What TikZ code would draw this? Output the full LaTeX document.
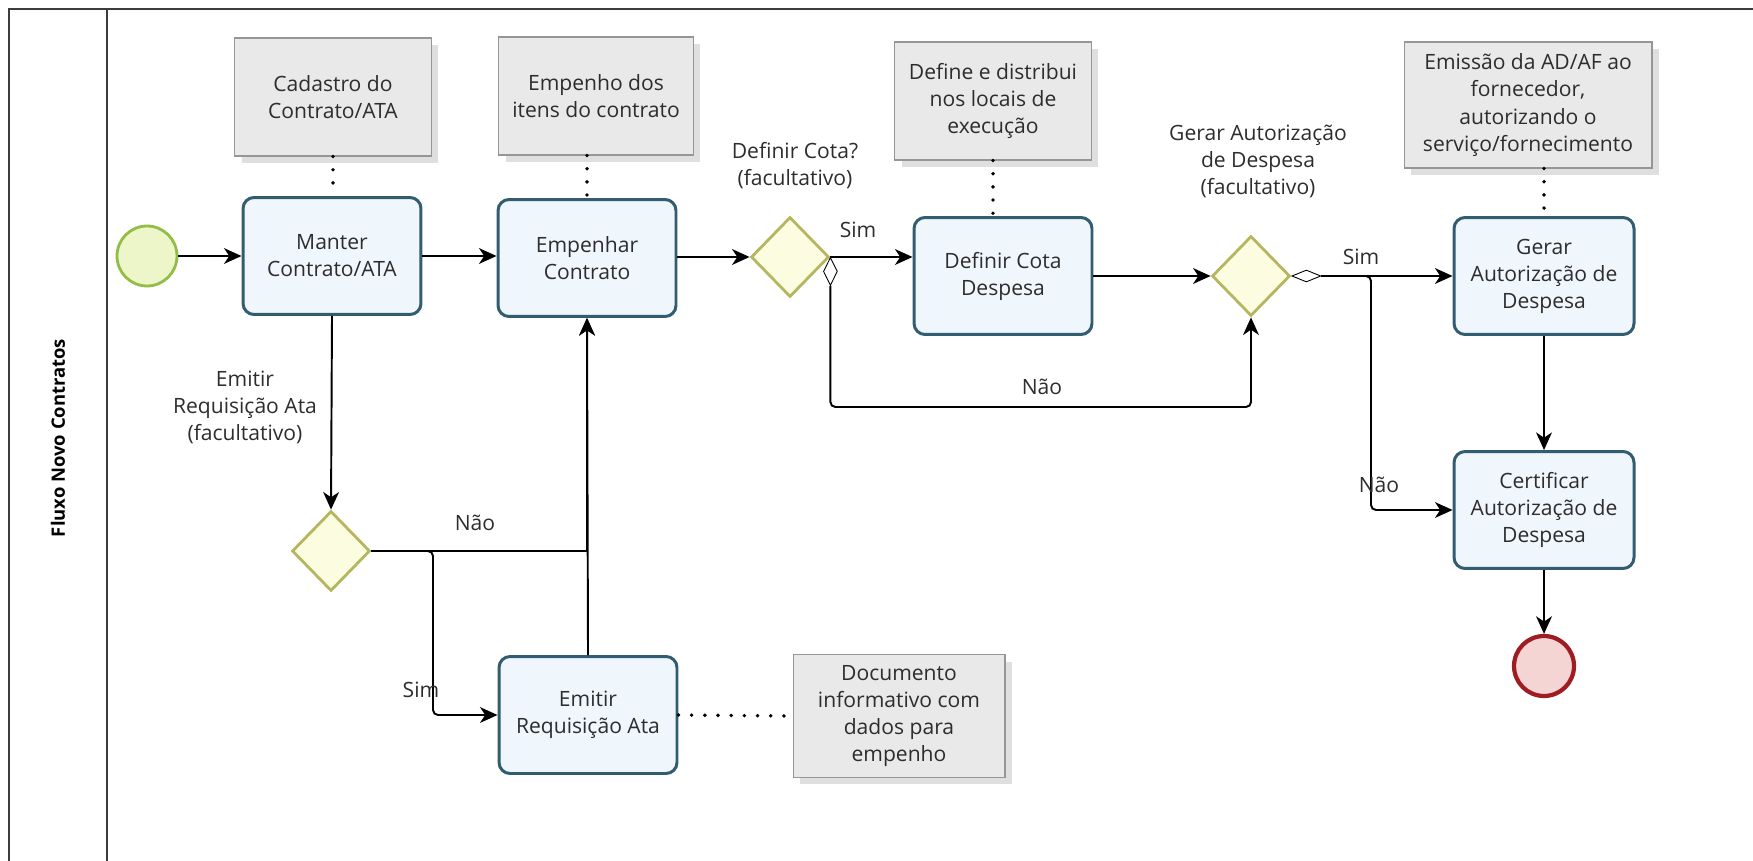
\documentclass[tikz,border=0pt]{standalone}
\usepackage{fontspec}
\setmainfont{Open Sans}
\usetikzlibrary{positioning,shapes.geometric,shadows,arrows.meta}

\definecolor{taskline}{RGB}{50,92,112}
\definecolor{taskfill}{RGB}{239,246,252}
\definecolor{notefill}{RGB}{233,233,233}
\definecolor{noteline}{RGB}{150,150,150}
\definecolor{gateline}{RGB}{182,182,96}
\definecolor{gatefill}{RGB}{252,252,224}
\definecolor{startline}{RGB}{148,188,72}
\definecolor{startfill}{RGB}{236,246,200}
\definecolor{endline}{RGB}{158,28,34}
\definecolor{endfill}{RGB}{245,212,212}
\definecolor{txt}{RGB}{45,45,45}
\definecolor{frameline}{RGB}{60,60,60}

\begin{document}
\begin{tikzpicture}[x=0.02cm, y=-0.02cm,
    txtfont/.style={font=\fontsize{12}{15.4}\selectfont, text=txt, align=center},
    task/.style={txtfont, draw=taskline, line width=1.7pt, fill=taskfill, rounded corners=0.22cm, minimum width=3.56cm, minimum height=2.34cm, inner sep=2pt},
    note/.style={txtfont, draw=noteline, line width=0.6pt, fill=notefill, minimum width=3.94cm, minimum height=2.36cm, inner sep=2pt, drop shadow={shadow xshift=0.14cm, shadow yshift=-0.14cm, opacity=0.25}},
    gate/.style={shape=diamond, draw=gateline, line width=1.6pt, fill=gatefill, minimum width=1.56cm, minimum height=1.6cm, inner sep=0pt},
    marker/.style={shape=diamond, draw=black, line width=0.5pt, fill=white, inner sep=0pt},
    lbl/.style={txtfont},
    flow/.style={draw=black, line width=1.1pt, -{Stealth[length=10pt,width=9pt,inset=3pt]}},
    assoc/.style={draw=black, line width=2.2pt, line cap=round, dash pattern=on 0pt off 7.5pt},
    frame/.style={draw=frameline, line width=1.2pt}]
    \useasboundingbox (0,0) rectangle (1753,861);
    % pool
    \draw[frame] (9,861) -- (9,9) -- (1753,9);
    \draw[frame] (107,9) -- (107,861);
    \node[rotate=90, font=\fontsize{10.5}{12}\selectfont\bfseries, text=black] (pool) at (58,438) {Fluxo Novo Contratos};
    % events and tasks
    \node[shape=circle, draw=startline, line width=1.6pt, fill=startfill, minimum size=1.2cm] (start) at (147,256) {};
    \node[task] (manter) at (332,256) {Manter\\Contrato/ATA};
    \node[task] (empenhar) at (587,258) {Empenhar\\Contrato};
    \node[gate] (g1) at (790,257) {};
    \node[task] (defcota) at (1003,276) {Definir Cota\\Despesa};
    \node[gate] (g2) at (1251,276) {};
    \node[task, minimum width=3.6cm] (gerar) at (1544,276) {Gerar\\Autorização de\\Despesa};
    \node[task, minimum width=3.6cm] (certif) at (1544,510) {Certificar\\Autorização de\\Despesa};
    \node[shape=circle, draw=endline, line width=2.4pt, fill=endfill, minimum size=1.2cm] (fim) at (1544,666) {};
    \node[gate] (g3) at (331,551) {};
    \node[task] (emitir) at (588,715) {Emitir\\Requisição Ata};
    % notes
    \node[note] (cadnote) at (333,97) {Cadastro do\\Contrato/ATA};
    \node[note, minimum width=3.9cm] (empnote) at (596,96) {Empenho dos\\itens do contrato};
    \node[note] (defnote) at (993,101) {Define e distribui\\nos locais de\\execução};
    \node[note, minimum width=4.96cm, minimum height=2.52cm] (emisnote) at (1528,105) {Emissão da AD/AF ao\\fornecedor,\\autorizando o\\serviço/fornecimento};
    \node[note, minimum width=4.24cm, minimum height=2.46cm] (docnote) at (899,716) {Documento\\informativo com\\dados para\\empenho};
    % conditional markers
    \node[marker, minimum width=0.28cm, minimum height=0.56cm, anchor=north] (mk1) at (g1.east) {};
    \node[marker, minimum width=0.58cm, minimum height=0.24cm, anchor=west] (mk2) at (g2.east) {};
    % bends
    \coordinate (naobend1) at (1251,407);
    \coordinate (naobend2) at (1371,510);
    \coordinate (simbend) at (433,715);
    % flows
    \draw[flow] (start) -- (manter);
    \draw[flow] (manter.east) -- (manter.east -| empenhar.west);
    \draw[flow] (manter.south) -- (g3.north);
    \draw[flow] (g3.east) -| (empenhar.south);
    \draw[flow, rounded corners=0.1cm] (g3.east) -| (simbend) -- (emitir.west);
    \draw[flow] (emitir.north) -- (empenhar.south);
    \draw[flow] (empenhar.east |- g1.west) -- (g1.west);
    \draw[flow] (g1.east) -- (g1.east -| defcota.west);
    \draw[flow, rounded corners=0.1cm] (mk1.south) |- (naobend1) -- (g2.south);
    \draw[flow] (defcota.east) -- (g2.west);
    \draw[flow] (mk2.east) -- (gerar.west);
    \draw[flow, rounded corners=0.1cm] (mk2.east) -| (naobend2) -- (certif.west);
    \draw[flow] (gerar.south) -- (certif.north);
    \draw[flow] (certif.south) -- (fim.north);
    % associations
    \draw[assoc] (cadnote.south) -- (cadnote.south |- manter.north);
    \draw[assoc] (empnote.south -| empenhar.north) -- (empenhar.north);
    \draw[assoc] (defnote.south) -- (defnote.south |- defcota.north);
    \draw[assoc] (emisnote.south -| gerar.north) -- (gerar.north);
    \draw[assoc] (emitir.east) -- (docnote.west);
    % labels
    \node[lbl] (lblreq) at (245,407) {Emitir\\Requisição Ata\\(facultativo)};
    \node[lbl] (lblcota) at (795,166) {Definir Cota?\\(facultativo)};
    \node[lbl] (lblaut) at (1258,161) {Gerar Autorização\\de Despesa\\(facultativo)};
    \node[lbl] (sim1) at (858,230) {Sim};
    \node[lbl] (nao1) at (1042,387) {Não};
    \node[lbl] (sim2) at (1361,257) {Sim};
    \node[lbl] (nao2) at (1379,485) {Não};
    \node[lbl] (nao3) at (475,523) {Não};
    \node[lbl] (sim3) at (421,690) {Sim};
\end{tikzpicture}
\end{document}
